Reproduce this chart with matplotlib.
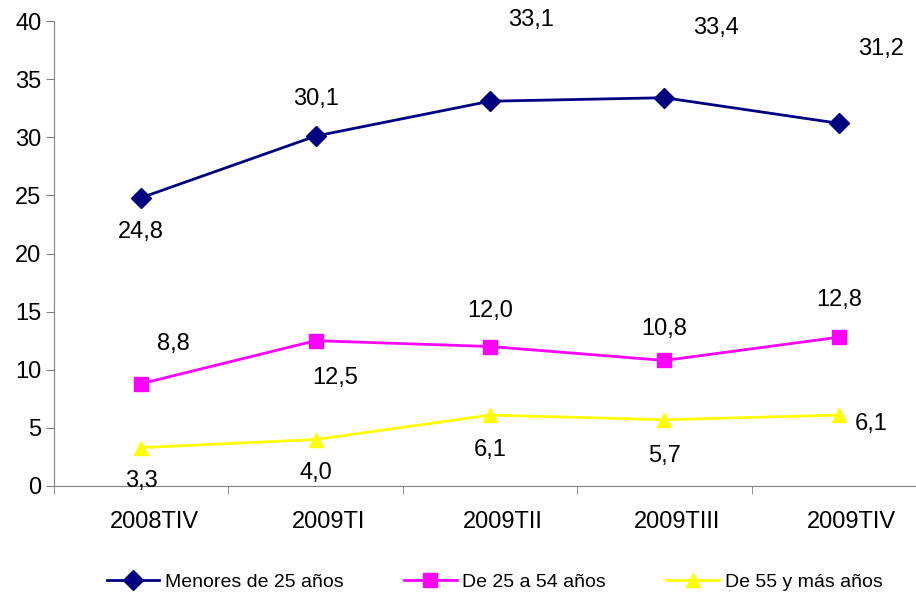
import numpy as np
import matplotlib.pyplot as plt
import matplotlib.transforms as mtransforms

plt.rcParams['font.family'] = ['Liberation Sans', 'DejaVu Sans']

periodos = ['2008TIV', '2009TI', '2009TII', '2009TIII', '2009TIV']
menores_25 = [24.8, 30.1, 33.1, 33.4, 31.2]
de_25_54 = [8.8, 12.5, 12.0, 10.8, 12.8]
de_55_mas = [3.3, 4.0, 6.1, 5.7, 6.1]

# label offsets in pixels (dx, dy)
off_menores = [(0, -34), (0, 37), (41, 81), (52, 70), (42, 74)]
off_25_54 = [(32, 40), (20, -37), (0, 36), (0, 31), (0, 37)]
off_55 = [(0, -33), (0, -34), (0, -35), (0, -36), (32, -9)]

fig = plt.figure(figsize=(9.16, 5.97), dpi=100)
ax = fig.add_axes([54/916, (597-486)/597, 872/916, 465/597])

x = np.arange(len(periodos))
series = [
    (menores_25, '#000080', 'D', 'Menores de 25 años', off_menores),
    (de_25_54, '#FF00FF', 's', 'De 25 a 54 años', off_25_54),
    (de_55_mas, '#FFFF00', '^', 'De 55 y más años', off_55),
]
for vals, col, mk, lab, offs in series:
    ax.plot(x, vals, color=col, marker=mk, markersize=10, linewidth=2, label=lab, clip_on=False)
    for xi, v, (dx, dy) in zip(x, vals, offs):
        ax.annotate(('%.1f' % v).replace('.', ','), (xi, v),
                    xytext=(dx*0.72, dy*0.72), textcoords='offset points',
                    ha='center', va='center', fontsize=17, color='black',
                    annotation_clip=False)

ax.set_xlim(-0.5, 4.5)
ax.set_ylim(0, 40)
ax.set_yticks(range(0, 41, 5))
ax.set_xticks(x)
ax.set_xticklabels(periodos)
ax.set_xticks(np.arange(-0.5, 5, 1), minor=True)
ax.tick_params(axis='x', which='major', length=0, pad=18, labelsize=17)
ax.tick_params(axis='x', which='minor', length=6, color='#808080', direction='out')
ax.tick_params(axis='y', length=6, color='#808080', direction='out', labelsize=17, pad=3)
# category labels sit a bit right of the points in the original
shift = mtransforms.ScaledTranslation(13/100, 0, fig.dpi_scale_trans)
for t in ax.get_xticklabels():
    t.set_transform(t.get_transform() + shift)
for s in ['top', 'right']:
    ax.spines[s].set_visible(False)
ax.spines['left'].set_color('#808080')
ax.spines['bottom'].set_color('#808080')
ax.patch.set_alpha(0)

fig.legend(loc='center', bbox_to_anchor=(0.54, 15/597), ncol=3, frameon=False,
           fontsize=14, handlelength=2.7, columnspacing=3.1, handletextpad=0.3)

fig.savefig('out.png', dpi=100)
